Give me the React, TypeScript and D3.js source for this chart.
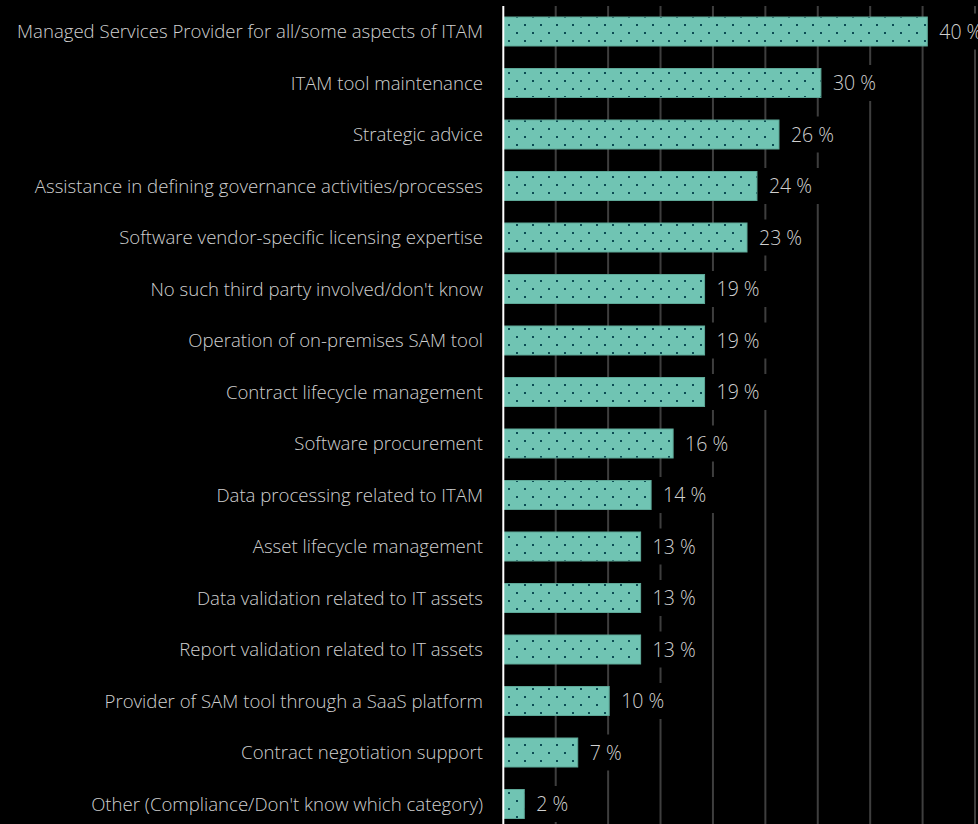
import React from "react";
import * as d3 from "d3";

const categories = [
  "Managed Services Provider for all/some aspects of ITAM",
  "ITAM tool maintenance",
  "Strategic advice",
  "Assistance in defining governance activities/processes",
  "Software vendor-specific licensing expertise",
  "No such third party involved/don't know",
  "Operation of on-premises SAM tool",
  "Contract lifecycle management",
  "Software procurement",
  "Data processing related to ITAM",
  "Asset lifecycle management",
  "Data validation related to IT assets",
  "Report validation related to IT assets",
  "Provider of SAM tool through a SaaS platform",
  "Contract negotiation support",
  "Other (Compliance/Don't know which category)",
];
const values = [40.45, 30.3, 26.3, 24.2, 23.25, 19.2, 19.2, 19.2, 16.2, 14.1, 13.1, 13.1, 13.1, 10.1, 7.1, 2.0];
const valueLabels = ["40 %", "30 %", "26 %", "24 %", "23 %", "19 %", "19 %", "19 %", "16 %", "14 %", "13 %", "13 %", "13 %", "10 %", "7 %", "2 %"];
const gridTicks = [5, 10, 15, 20, 25, 30, 35, 40, 45];

const W = 978;
const H = 824;
const FONT = "'Open Sans', sans-serif";

export default function App() {
  const x = d3.scaleLinear().domain([0, 45]).range([503.3, 975]);
  const y = d3
    .scaleBand<string>()
    .domain(categories)
    .range([5.75, 5.75 + 51.5 * 16])
    .paddingInner(0.437)
    .paddingOuter(0.2185);
  const bw = y.bandwidth();

  return (
    <svg
      width={W}
      height={H}
      style={{ position: "absolute", left: 0, top: 0, background: "#000" }}
    >
      <defs>
        <pattern id="dots" patternUnits="userSpaceOnUse" width={16} height={16}>
          <rect x={0} y={0} width={16} height={16} fill="#70c4b3" />
          <rect x={12} y={8} width={2} height={2} fill="#0b4c54" />
          <rect x={4} y={0} width={2} height={2} fill="#0b4c54" />
        </pattern>
      </defs>
      <rect x={0} y={0} width={W} height={H} fill="#000" />
      {gridTicks.map((t) => (
        <line
          key={t}
          x1={x(t)}
          x2={x(t)}
          y1={6}
          y2={H}
          stroke="#3e3e3e"
          strokeWidth={2}
        />
      ))}
      {categories.map((c, i) => {
        const yy = y(c)!;
        const xe = x(values[i]);
        const cy = yy + bw / 2;
        const lw = valueLabels[i].length * 11 + 10;
        return (
          <g key={c}>
            <rect
              x={x(0)}
              y={yy}
              width={xe - x(0)}
              height={bw}
              fill="url(#dots)"
              stroke="#5ea898"
              strokeWidth={1}
            />
            <rect x={xe + 5} y={cy - 18} width={lw + 4} height={36} fill="#000" />
            <text
              x={xe + 12}
              y={cy}
              dy="0.36em"
              fill="#d0d0d0"
              fontFamily={FONT}
              fontWeight={300}
              fontSize={19.5}
            >
              {valueLabels[i]}
            </text>
            <text
              x={483}
              y={cy}
              dy="0.36em"
              textAnchor="end"
              fill="#d0d0d0"
              fontFamily={FONT}
              fontWeight={300}
              fontSize={18.6}
            >
              {c}
            </text>
          </g>
        );
      })}
      <line x1={x(0)} x2={x(0)} y1={6} y2={H} stroke="#ffffff" strokeWidth={2} />
    </svg>
  );
}
